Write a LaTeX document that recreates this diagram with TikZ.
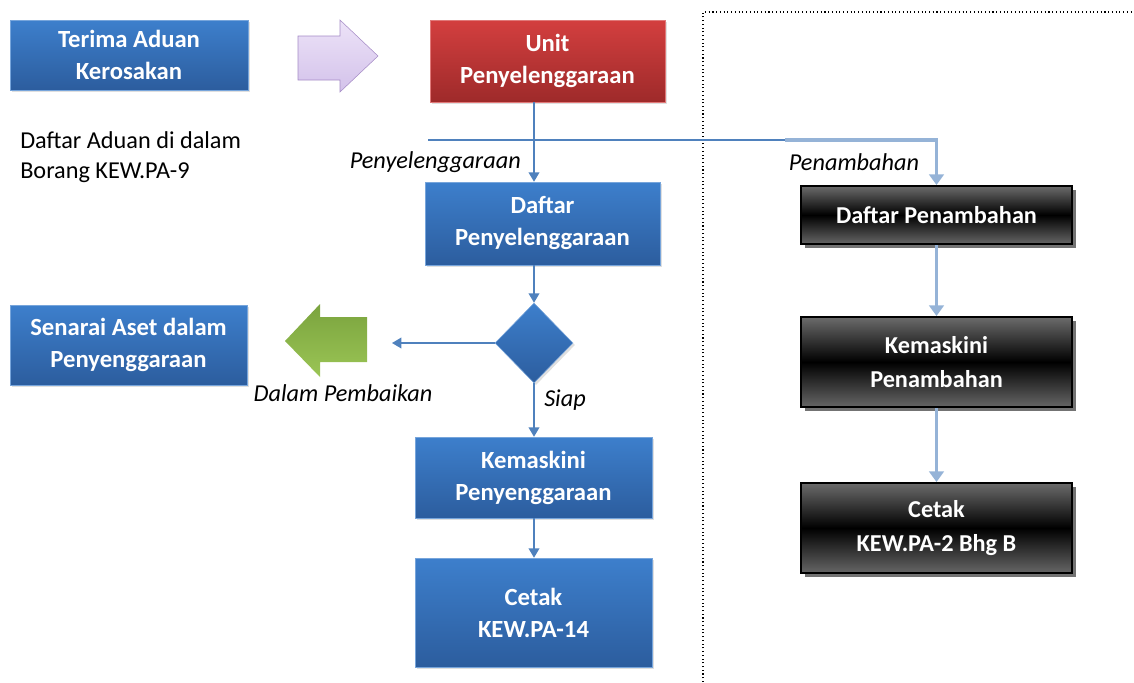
\documentclass[tikz,border=0pt]{standalone}
\usepackage{fontspec}
\setmainfont{Carlito}
\usetikzlibrary{shapes.geometric, shadows, arrows.meta}

\definecolor{boxblue}{HTML}{3D7FCC}
\definecolor{boxbluedark}{HTML}{2C5D9E}
\definecolor{boxred}{HTML}{D33F3F}
\definecolor{boxreddark}{HTML}{9E2A2A}
\definecolor{lineblue}{HTML}{4F81BD}
\definecolor{lightline}{HTML}{95B3D7}
\definecolor{arrowlilac}{HTML}{EDE3F8}
\definecolor{lilacdark}{HTML}{D3C2EA}
\definecolor{lilacedge}{HTML}{A58CC6}
\definecolor{arrowgreen}{HTML}{9BC555}
\definecolor{greendark}{HTML}{7AA33E}

\tikzset{
  bluebox/.style={rectangle, top color=boxblue, bottom color=boxbluedark, draw=boxblue!70!white,
    text=white, font=\fontsize{18.5}{24}\selectfont\bfseries, align=center, inner sep=0pt,
    drop shadow={shadow xshift=1.5pt, shadow yshift=-1.5pt, opacity=0.25}},
  redbox/.style={bluebox, top color=boxred, bottom color=boxreddark, draw=boxred!70!white},
  blackbox/.style={rectangle, draw=black, line width=1.5pt, top color=black!58, bottom color=black!60,
    middle color=black, text=white, font=\fontsize{18.2}{26}\selectfont\bfseries, align=center,
    inner sep=0pt, drop shadow={shadow xshift=3pt, shadow yshift=-3pt, fill=black!55, opacity=1}},
  decision/.style={diamond, top color=boxblue, bottom color=boxbluedark, draw=boxblue!70!white,
    inner sep=0pt, minimum width=58.5pt, minimum height=60pt,
    drop shadow={shadow xshift=1.5pt, shadow yshift=-1.5pt, opacity=0.25}},
  lbl/.style={font=\fontsize{18.2}{22.5}\selectfont\itshape, inner sep=0pt},
  flow/.style={draw=lineblue, line width=1.1pt, -{Triangle[width=8pt,length=7pt]}},
  thinline/.style={draw=lineblue, line width=1.1pt},
  thickflow/.style={draw=lightline, line width=2.6pt, -{Triangle[width=11pt,length=8pt]}}
}

\begin{document}
\begin{tikzpicture}[x=0.75pt, y=-0.75pt]
    \useasboundingbox (0,0) rectangle (1134,682);

    \draw[dotted, line width=0.8pt] (703,682) -- (703,12) -- (1134,12);

    \node[bluebox, minimum width=178.5pt, minimum height=52.5pt] (terima) at (129,55) {Terima Aduan\\Kerosakan};
    \shadedraw[draw=lilacedge, top color=arrowlilac, bottom color=lilacdark]
        (298,36) -- (340,36) -- (340,20) -- (378,56) -- (340,92) -- (340,80) -- (298,80) -- cycle;
    \node[redbox, minimum width=176.25pt, minimum height=61.5pt] (unit) at (547.5,61) {Unit\\Penyelenggaraan};

    \node[font=\fontsize{18.2}{22.5}\selectfont, align=left, anchor=west, inner sep=0pt] (aduan) at (20,157)
        {Daftar Aduan di dalam\\Borang KEW.PA-9};

    \node[bluebox, minimum width=176.25pt, minimum height=62.25pt] (dpeny) at (542.5,223.5) {Daftar\\Penyelenggaraan};
    \node[decision] (dec) at (534,343) {};
    \node[bluebox, minimum width=177.75pt, minimum height=60pt] (senarai) at (128.5,345) {Senarai Aset dalam\\Penyenggaraan};
    \shadedraw[draw=none, top color=greendark, bottom color=arrowgreen]
        (367,317) -- (320,317) -- (320,304) -- (285,341) -- (320,377) -- (320,362) -- (367,362) -- cycle;
    \node[bluebox, minimum width=177.75pt, minimum height=60.75pt] (kpeny) at (533.5,477.5) {Kemaskini\\Penyenggaraan};
    \node[bluebox, minimum width=177.75pt, minimum height=81.75pt] (cpeny) at (533.5,612.5) {Cetak\\KEW.PA-14};

    \node[blackbox, minimum width=203.25pt, minimum height=43.5pt] (dpen) at (936.5,215) {Daftar Penambahan};
    \node[blackbox, minimum width=203.25pt, minimum height=67.5pt] (kpen) at (936.5,362) {Kemaskini\\Penambahan};
    \node[blackbox, minimum width=203.25pt, minimum height=67.5pt] (cpen) at (936.5,528) {Cetak\\KEW.PA-2 Bhg B};

    \coordinate (split) at (428,140);
    \coordinate (joint) at (785,140);
    \coordinate (repair) at (392,343);

    \draw[flow] (unit.south -| dec) -- (dpeny.north -| dec);
    \draw[thinline] (split) -- (joint);
    \draw[thickflow] (joint) -| (dpen.north);
    \draw[flow] (dpeny.south -| dec) -- (dec.north);
    \draw[flow] (dec.west) -- (repair);
    \draw[flow] (dec.south) -- (kpeny.north -| dec);
    \draw[flow] (kpeny.south -| dec) -- (cpeny.north -| dec);
    \draw[thickflow] (dpen) -- (kpen);
    \draw[thickflow] (kpen) -- (cpen);

    \node[lbl, anchor=east] (lpeny) at (521,162) {Penyelenggaraan};
    \node[lbl] (lpen) at (854,162) {Penambahan};
    \node[lbl] (lbaik) at (343,393) {Dalam Pembaikan};
    \node[lbl] (lsiap) at (565,400) {Siap};
\end{tikzpicture}
\end{document}
